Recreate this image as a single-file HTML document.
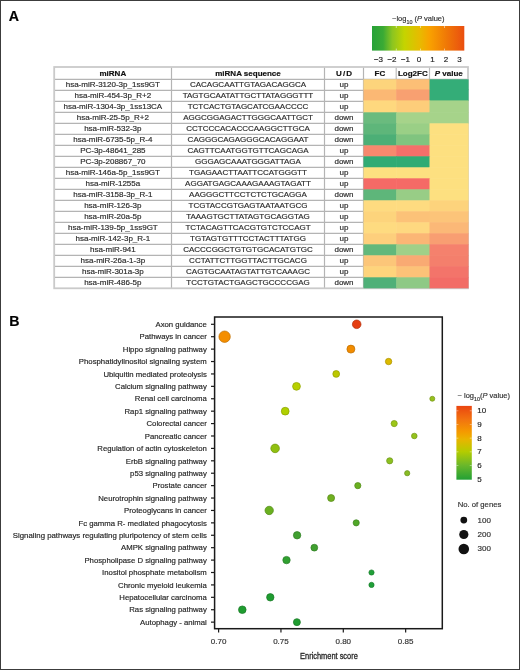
<!DOCTYPE html>
<html><head><meta charset="utf-8"><style>
html,body{margin:0;padding:0;background:#fff;}
body{width:520px;height:670px;overflow:hidden;}
svg{display:block;font-family:"Liberation Sans",sans-serif;will-change:transform;}
</style></head><body>
<svg width="520" height="670" viewBox="0 0 520 670">
<defs>
<linearGradient id="gA" x1="0" y1="0" x2="1" y2="0">
 <stop offset="0" stop-color="#27a138"/>
 <stop offset="0.12" stop-color="#3aaa35"/>
 <stop offset="0.22" stop-color="#8cc520"/>
 <stop offset="0.35" stop-color="#c4d400"/>
 <stop offset="0.52" stop-color="#e8ba00"/>
 <stop offset="0.62" stop-color="#f9a200"/>
 <stop offset="0.80" stop-color="#f07a06"/>
 <stop offset="1" stop-color="#ea4e10"/>
</linearGradient>
<linearGradient id="gB" x1="0" y1="1" x2="0" y2="0">
 <stop offset="0" stop-color="#22a035"/>
 <stop offset="0.2" stop-color="#6cb82a"/>
 <stop offset="0.38" stop-color="#b4cc00"/>
 <stop offset="0.55" stop-color="#eab400"/>
 <stop offset="0.65" stop-color="#f59a00"/>
 <stop offset="0.82" stop-color="#f27210"/>
 <stop offset="1" stop-color="#ea4510"/>
</linearGradient>
</defs>
<rect x="0.5" y="0.5" width="519" height="669" fill="#fff" stroke="#3c3c3c" stroke-width="1"/>

<text x="8.8" y="20.8" font-size="14.2" font-weight="bold" fill="#000" stroke="#000" stroke-width="0.17">A</text>
<text x="9.2" y="325.5" font-size="14.2" font-weight="bold" fill="#000" stroke="#000" stroke-width="0.17">B</text>
<text x="392" y="21" font-size="7.5" fill="#333" stroke="#333" stroke-width="0.17">−log<tspan font-size="5.4" dy="2.6">10</tspan><tspan dy="-2.6"> (</tspan><tspan font-style="italic">P</tspan> value)</text>
<rect x="372" y="26" width="92.3" height="24.6" fill="url(#gA)"/>
<line x1="396.3" y1="26" x2="396.3" y2="28" stroke="#fff" stroke-width="0.8" opacity="0.7"/>
<line x1="396.3" y1="48.6" x2="396.3" y2="50.6" stroke="#fff" stroke-width="0.8" opacity="0.7"/>
<line x1="420.4" y1="26" x2="420.4" y2="28" stroke="#fff" stroke-width="0.8" opacity="0.7"/>
<line x1="420.4" y1="48.6" x2="420.4" y2="50.6" stroke="#fff" stroke-width="0.8" opacity="0.7"/>
<line x1="444.4" y1="26" x2="444.4" y2="28" stroke="#fff" stroke-width="0.8" opacity="0.7"/>
<line x1="444.4" y1="48.6" x2="444.4" y2="50.6" stroke="#fff" stroke-width="0.8" opacity="0.7"/>
<text x="378.5" y="61.6" font-size="8" fill="#222" text-anchor="middle" stroke="#222" stroke-width="0.17">−3</text>
<text x="392.0" y="61.6" font-size="8" fill="#222" text-anchor="middle" stroke="#222" stroke-width="0.17">−2</text>
<text x="405.5" y="61.6" font-size="8" fill="#222" text-anchor="middle" stroke="#222" stroke-width="0.17">−1</text>
<text x="419.0" y="61.6" font-size="8" fill="#222" text-anchor="middle" stroke="#222" stroke-width="0.17">0</text>
<text x="432.5" y="61.6" font-size="8" fill="#222" text-anchor="middle" stroke="#222" stroke-width="0.17">1</text>
<text x="446.0" y="61.6" font-size="8" fill="#222" text-anchor="middle" stroke="#222" stroke-width="0.17">2</text>
<text x="459.5" y="61.6" font-size="8" fill="#222" text-anchor="middle" stroke="#222" stroke-width="0.17">3</text>
<line x1="54.2" y1="90.30" x2="363.5" y2="90.30" stroke="#b4b4b4" stroke-width="1.2"/>
<line x1="54.2" y1="101.30" x2="363.5" y2="101.30" stroke="#b4b4b4" stroke-width="1.2"/>
<line x1="54.2" y1="112.30" x2="363.5" y2="112.30" stroke="#b4b4b4" stroke-width="1.2"/>
<line x1="54.2" y1="123.30" x2="363.5" y2="123.30" stroke="#b4b4b4" stroke-width="1.2"/>
<line x1="54.2" y1="134.30" x2="363.5" y2="134.30" stroke="#b4b4b4" stroke-width="1.2"/>
<line x1="54.2" y1="145.30" x2="363.5" y2="145.30" stroke="#b4b4b4" stroke-width="1.2"/>
<line x1="54.2" y1="156.30" x2="363.5" y2="156.30" stroke="#b4b4b4" stroke-width="1.2"/>
<line x1="54.2" y1="167.30" x2="363.5" y2="167.30" stroke="#b4b4b4" stroke-width="1.2"/>
<line x1="54.2" y1="178.30" x2="363.5" y2="178.30" stroke="#b4b4b4" stroke-width="1.2"/>
<line x1="54.2" y1="189.30" x2="363.5" y2="189.30" stroke="#b4b4b4" stroke-width="1.2"/>
<line x1="54.2" y1="200.30" x2="363.5" y2="200.30" stroke="#b4b4b4" stroke-width="1.2"/>
<line x1="54.2" y1="211.30" x2="363.5" y2="211.30" stroke="#b4b4b4" stroke-width="1.2"/>
<line x1="54.2" y1="222.30" x2="363.5" y2="222.30" stroke="#b4b4b4" stroke-width="1.2"/>
<line x1="54.2" y1="233.30" x2="363.5" y2="233.30" stroke="#b4b4b4" stroke-width="1.2"/>
<line x1="54.2" y1="244.30" x2="363.5" y2="244.30" stroke="#b4b4b4" stroke-width="1.2"/>
<line x1="54.2" y1="255.30" x2="363.5" y2="255.30" stroke="#b4b4b4" stroke-width="1.2"/>
<line x1="54.2" y1="266.30" x2="363.5" y2="266.30" stroke="#b4b4b4" stroke-width="1.2"/>
<line x1="54.2" y1="277.30" x2="363.5" y2="277.30" stroke="#b4b4b4" stroke-width="1.2"/>
<line x1="54.2" y1="79.3" x2="468" y2="79.3" stroke="#b4b4b4" stroke-width="1.2"/>
<line x1="171.5" y1="67.0" x2="171.5" y2="288.30" stroke="#b4b4b4" stroke-width="1.2"/>
<line x1="324.5" y1="67.0" x2="324.5" y2="288.30" stroke="#b4b4b4" stroke-width="1.2"/>
<line x1="363.5" y1="67.0" x2="363.5" y2="288.30" stroke="#b4b4b4" stroke-width="1.2"/>
<line x1="396.2" y1="67.0" x2="396.2" y2="79.3" stroke="#bcbcbc" stroke-width="1.2"/>
<line x1="429.5" y1="67.0" x2="429.5" y2="79.3" stroke="#bcbcbc" stroke-width="1.2"/>
<rect x="54.2" y="67.0" width="413.80" height="221.30" fill="none" stroke="#cacaca" stroke-width="1.8"/>
<rect x="363.5" y="79.30" width="33.30" height="10.80" fill="#fdd47c"/>
<rect x="396.2" y="79.30" width="33.90" height="10.80" fill="#fcbf76"/>
<rect x="429.5" y="79.30" width="39.10" height="10.80" fill="#34ad78"/>
<rect x="363.5" y="89.50" width="33.30" height="11.50" fill="#fbb874"/>
<rect x="396.2" y="89.50" width="33.90" height="11.50" fill="#f8a071"/>
<rect x="429.5" y="89.50" width="39.10" height="11.50" fill="#34ad78"/>
<rect x="363.5" y="100.40" width="33.30" height="12.50" fill="#fed87e"/>
<rect x="396.2" y="100.40" width="33.90" height="12.50" fill="#fdcd7a"/>
<rect x="429.5" y="100.40" width="39.10" height="12.50" fill="#a6d38a"/>
<rect x="363.5" y="112.30" width="33.30" height="11.60" fill="#6abb7e"/>
<rect x="396.2" y="112.30" width="33.90" height="11.60" fill="#a6d38a"/>
<rect x="429.5" y="112.30" width="39.10" height="11.60" fill="#a6d38a"/>
<rect x="363.5" y="123.30" width="33.30" height="11.60" fill="#5eb67a"/>
<rect x="396.2" y="123.30" width="33.90" height="11.60" fill="#9acf86"/>
<rect x="429.5" y="123.30" width="39.10" height="11.60" fill="#fde080"/>
<rect x="363.5" y="134.30" width="33.30" height="11.60" fill="#4caf76"/>
<rect x="396.2" y="134.30" width="33.90" height="11.60" fill="#80c47f"/>
<rect x="429.5" y="134.30" width="39.10" height="11.60" fill="#fde080"/>
<rect x="363.5" y="145.30" width="33.30" height="11.60" fill="#f7896e"/>
<rect x="396.2" y="145.30" width="33.90" height="11.60" fill="#f46f6a"/>
<rect x="429.5" y="145.30" width="39.10" height="11.60" fill="#fde080"/>
<rect x="363.5" y="156.30" width="33.30" height="11.60" fill="#30ab74"/>
<rect x="396.2" y="156.30" width="33.90" height="11.60" fill="#30ab74"/>
<rect x="429.5" y="156.30" width="39.10" height="11.60" fill="#fde080"/>
<rect x="363.5" y="167.30" width="33.30" height="11.60" fill="#fde080"/>
<rect x="396.2" y="167.30" width="33.90" height="11.60" fill="#fde080"/>
<rect x="429.5" y="167.30" width="39.10" height="11.60" fill="#fde080"/>
<rect x="363.5" y="178.30" width="33.30" height="11.60" fill="#f56a66"/>
<rect x="396.2" y="178.30" width="33.90" height="11.60" fill="#f56a66"/>
<rect x="429.5" y="178.30" width="39.10" height="11.60" fill="#fde080"/>
<rect x="363.5" y="189.30" width="33.30" height="11.60" fill="#5eb67a"/>
<rect x="396.2" y="189.30" width="33.90" height="11.60" fill="#98cd86"/>
<rect x="429.5" y="189.30" width="39.10" height="11.60" fill="#fde080"/>
<rect x="363.5" y="200.30" width="33.30" height="11.60" fill="#fedb80"/>
<rect x="396.2" y="200.30" width="33.90" height="11.60" fill="#fedb80"/>
<rect x="429.5" y="200.30" width="39.10" height="11.60" fill="#fdd37c"/>
<rect x="363.5" y="211.30" width="33.30" height="11.60" fill="#fdd47c"/>
<rect x="396.2" y="211.30" width="33.90" height="11.60" fill="#fcc278"/>
<rect x="429.5" y="211.30" width="39.10" height="11.60" fill="#fcc479"/>
<rect x="363.5" y="222.30" width="33.30" height="11.60" fill="#fedb80"/>
<rect x="396.2" y="222.30" width="33.90" height="11.60" fill="#fed880"/>
<rect x="429.5" y="222.30" width="39.10" height="11.60" fill="#fbb877"/>
<rect x="363.5" y="233.30" width="33.30" height="11.60" fill="#fdcf7c"/>
<rect x="396.2" y="233.30" width="33.90" height="11.60" fill="#fbb675"/>
<rect x="429.5" y="233.30" width="39.10" height="11.60" fill="#f89e72"/>
<rect x="363.5" y="244.30" width="33.30" height="11.60" fill="#62b87b"/>
<rect x="396.2" y="244.30" width="33.90" height="11.60" fill="#a0d088"/>
<rect x="429.5" y="244.30" width="39.10" height="11.60" fill="#f5816d"/>
<rect x="363.5" y="255.30" width="33.30" height="11.60" fill="#fcc679"/>
<rect x="396.2" y="255.30" width="33.90" height="11.60" fill="#f9aa73"/>
<rect x="429.5" y="255.30" width="39.10" height="11.60" fill="#f47f6c"/>
<rect x="363.5" y="266.30" width="33.30" height="11.60" fill="#fed47c"/>
<rect x="396.2" y="266.30" width="33.90" height="11.60" fill="#fcc278"/>
<rect x="429.5" y="266.30" width="39.10" height="11.60" fill="#f3746a"/>
<rect x="363.5" y="277.30" width="33.30" height="11.00" fill="#4fb078"/>
<rect x="396.2" y="277.30" width="33.90" height="11.00" fill="#8ec985"/>
<rect x="429.5" y="277.30" width="39.10" height="11.00" fill="#f26c66"/>
<text x="112.85" y="75.8" font-size="8" font-weight="bold" fill="#111" text-anchor="middle" stroke="#111" stroke-width="0.17">miRNA</text>
<text x="248.00" y="75.8" font-size="8" font-weight="bold" fill="#111" text-anchor="middle" stroke="#111" stroke-width="0.17">miRNA sequence</text>
<text x="344.00" y="75.8" font-size="8" font-weight="bold" fill="#111" text-anchor="middle" stroke="#111" stroke-width="0.17">U<tspan dx="1.1">/</tspan><tspan dx="1.1">D</tspan></text>
<text x="379.85" y="75.8" font-size="8" font-weight="bold" fill="#111" text-anchor="middle" stroke="#111" stroke-width="0.17">FC</text>
<text x="412.85" y="75.8" font-size="8" font-weight="bold" fill="#111" text-anchor="middle" stroke="#111" stroke-width="0.17">Log2FC</text>
<text x="448.75" y="75.8" font-size="8" font-weight="bold" fill="#111" text-anchor="middle" stroke="#111" stroke-width="0.17"><tspan font-style="italic">P</tspan> value</text>
<text x="112.85" y="87.40" font-size="8" fill="#2a2a2a" text-anchor="middle" stroke="#2a2a2a" stroke-width="0.17">hsa-miR-3120-3p_1ss9GT</text>
<text x="248.00" y="87.40" font-size="8" fill="#2a2a2a" text-anchor="middle" stroke="#2a2a2a" stroke-width="0.17">CACAGCAATTGTAGACAGGCA</text>
<text x="344.00" y="87.40" font-size="8" fill="#2a2a2a" text-anchor="middle" stroke="#2a2a2a" stroke-width="0.17">up</text>
<text x="112.85" y="98.40" font-size="8" fill="#2a2a2a" text-anchor="middle" stroke="#2a2a2a" stroke-width="0.17">hsa-miR-454-3p_R+2</text>
<text x="248.00" y="98.40" font-size="8" fill="#2a2a2a" text-anchor="middle" stroke="#2a2a2a" stroke-width="0.17">TAGTGCAATATTGCTTATAGGGTTT</text>
<text x="344.00" y="98.40" font-size="8" fill="#2a2a2a" text-anchor="middle" stroke="#2a2a2a" stroke-width="0.17">up</text>
<text x="112.85" y="109.40" font-size="8" fill="#2a2a2a" text-anchor="middle" stroke="#2a2a2a" stroke-width="0.17">hsa-miR-1304-3p_1ss13CA</text>
<text x="248.00" y="109.40" font-size="8" fill="#2a2a2a" text-anchor="middle" stroke="#2a2a2a" stroke-width="0.17">TCTCACTGTAGCATCGAACCCC</text>
<text x="344.00" y="109.40" font-size="8" fill="#2a2a2a" text-anchor="middle" stroke="#2a2a2a" stroke-width="0.17">up</text>
<text x="112.85" y="120.40" font-size="8" fill="#2a2a2a" text-anchor="middle" stroke="#2a2a2a" stroke-width="0.17">hsa-miR-25-5p_R+2</text>
<text x="248.00" y="120.40" font-size="8" fill="#2a2a2a" text-anchor="middle" stroke="#2a2a2a" stroke-width="0.17">AGGCGGAGACTTGGGCAATTGCT</text>
<text x="344.00" y="120.40" font-size="8" fill="#2a2a2a" text-anchor="middle" stroke="#2a2a2a" stroke-width="0.17">down</text>
<text x="112.85" y="131.40" font-size="8" fill="#2a2a2a" text-anchor="middle" stroke="#2a2a2a" stroke-width="0.17">hsa-miR-532-3p</text>
<text x="248.00" y="131.40" font-size="8" fill="#2a2a2a" text-anchor="middle" stroke="#2a2a2a" stroke-width="0.17">CCTCCCACACCCAAGGCTTGCA</text>
<text x="344.00" y="131.40" font-size="8" fill="#2a2a2a" text-anchor="middle" stroke="#2a2a2a" stroke-width="0.17">down</text>
<text x="112.85" y="142.40" font-size="8" fill="#2a2a2a" text-anchor="middle" stroke="#2a2a2a" stroke-width="0.17">hsa-miR-6735-5p_R-4</text>
<text x="248.00" y="142.40" font-size="8" fill="#2a2a2a" text-anchor="middle" stroke="#2a2a2a" stroke-width="0.17">CAGGGCAGAGGGCACAGGAAT</text>
<text x="344.00" y="142.40" font-size="8" fill="#2a2a2a" text-anchor="middle" stroke="#2a2a2a" stroke-width="0.17">down</text>
<text x="112.85" y="153.40" font-size="8" fill="#2a2a2a" text-anchor="middle" stroke="#2a2a2a" stroke-width="0.17">PC-3p-48641_285</text>
<text x="248.00" y="153.40" font-size="8" fill="#2a2a2a" text-anchor="middle" stroke="#2a2a2a" stroke-width="0.17">CAGTTCAATGGTGTTCAGCAGA</text>
<text x="344.00" y="153.40" font-size="8" fill="#2a2a2a" text-anchor="middle" stroke="#2a2a2a" stroke-width="0.17">up</text>
<text x="112.85" y="164.40" font-size="8" fill="#2a2a2a" text-anchor="middle" stroke="#2a2a2a" stroke-width="0.17">PC-3p-208867_70</text>
<text x="248.00" y="164.40" font-size="8" fill="#2a2a2a" text-anchor="middle" stroke="#2a2a2a" stroke-width="0.17">GGGAGCAAATGGGATTAGA</text>
<text x="344.00" y="164.40" font-size="8" fill="#2a2a2a" text-anchor="middle" stroke="#2a2a2a" stroke-width="0.17">down</text>
<text x="112.85" y="175.40" font-size="8" fill="#2a2a2a" text-anchor="middle" stroke="#2a2a2a" stroke-width="0.17">hsa-miR-146a-5p_1ss9GT</text>
<text x="248.00" y="175.40" font-size="8" fill="#2a2a2a" text-anchor="middle" stroke="#2a2a2a" stroke-width="0.17">TGAGAACTTAATTCCATGGGTT</text>
<text x="344.00" y="175.40" font-size="8" fill="#2a2a2a" text-anchor="middle" stroke="#2a2a2a" stroke-width="0.17">up</text>
<text x="112.85" y="186.40" font-size="8" fill="#2a2a2a" text-anchor="middle" stroke="#2a2a2a" stroke-width="0.17">hsa-miR-1255a</text>
<text x="248.00" y="186.40" font-size="8" fill="#2a2a2a" text-anchor="middle" stroke="#2a2a2a" stroke-width="0.17">AGGATGAGCAAAGAAAGTAGATT</text>
<text x="344.00" y="186.40" font-size="8" fill="#2a2a2a" text-anchor="middle" stroke="#2a2a2a" stroke-width="0.17">up</text>
<text x="112.85" y="197.40" font-size="8" fill="#2a2a2a" text-anchor="middle" stroke="#2a2a2a" stroke-width="0.17">hsa-miR-3158-3p_R-1</text>
<text x="248.00" y="197.40" font-size="8" fill="#2a2a2a" text-anchor="middle" stroke="#2a2a2a" stroke-width="0.17">AAGGGCTTCCTCTCTGCAGGA</text>
<text x="344.00" y="197.40" font-size="8" fill="#2a2a2a" text-anchor="middle" stroke="#2a2a2a" stroke-width="0.17">down</text>
<text x="112.85" y="208.40" font-size="8" fill="#2a2a2a" text-anchor="middle" stroke="#2a2a2a" stroke-width="0.17">hsa-miR-126-3p</text>
<text x="248.00" y="208.40" font-size="8" fill="#2a2a2a" text-anchor="middle" stroke="#2a2a2a" stroke-width="0.17">TCGTACCGTGAGTAATAATGCG</text>
<text x="344.00" y="208.40" font-size="8" fill="#2a2a2a" text-anchor="middle" stroke="#2a2a2a" stroke-width="0.17">up</text>
<text x="112.85" y="219.40" font-size="8" fill="#2a2a2a" text-anchor="middle" stroke="#2a2a2a" stroke-width="0.17">hsa-miR-20a-5p</text>
<text x="248.00" y="219.40" font-size="8" fill="#2a2a2a" text-anchor="middle" stroke="#2a2a2a" stroke-width="0.17">TAAAGTGCTTATAGTGCAGGTAG</text>
<text x="344.00" y="219.40" font-size="8" fill="#2a2a2a" text-anchor="middle" stroke="#2a2a2a" stroke-width="0.17">up</text>
<text x="112.85" y="230.40" font-size="8" fill="#2a2a2a" text-anchor="middle" stroke="#2a2a2a" stroke-width="0.17">hsa-miR-139-5p_1ss9GT</text>
<text x="248.00" y="230.40" font-size="8" fill="#2a2a2a" text-anchor="middle" stroke="#2a2a2a" stroke-width="0.17">TCTACAGTTCACGTGTCTCCAGT</text>
<text x="344.00" y="230.40" font-size="8" fill="#2a2a2a" text-anchor="middle" stroke="#2a2a2a" stroke-width="0.17">up</text>
<text x="112.85" y="241.40" font-size="8" fill="#2a2a2a" text-anchor="middle" stroke="#2a2a2a" stroke-width="0.17">hsa-miR-142-3p_R-1</text>
<text x="248.00" y="241.40" font-size="8" fill="#2a2a2a" text-anchor="middle" stroke="#2a2a2a" stroke-width="0.17">TGTAGTGTTTCCTACTTTATGG</text>
<text x="344.00" y="241.40" font-size="8" fill="#2a2a2a" text-anchor="middle" stroke="#2a2a2a" stroke-width="0.17">up</text>
<text x="112.85" y="252.40" font-size="8" fill="#2a2a2a" text-anchor="middle" stroke="#2a2a2a" stroke-width="0.17">hsa-miR-941</text>
<text x="248.00" y="252.40" font-size="8" fill="#2a2a2a" text-anchor="middle" stroke="#2a2a2a" stroke-width="0.17">CACCCGGCTGTGTGCACATGTGC</text>
<text x="344.00" y="252.40" font-size="8" fill="#2a2a2a" text-anchor="middle" stroke="#2a2a2a" stroke-width="0.17">down</text>
<text x="112.85" y="263.40" font-size="8" fill="#2a2a2a" text-anchor="middle" stroke="#2a2a2a" stroke-width="0.17">hsa-miR-26a-1-3p</text>
<text x="248.00" y="263.40" font-size="8" fill="#2a2a2a" text-anchor="middle" stroke="#2a2a2a" stroke-width="0.17">CCTATTCTTGGTTACTTGCACG</text>
<text x="344.00" y="263.40" font-size="8" fill="#2a2a2a" text-anchor="middle" stroke="#2a2a2a" stroke-width="0.17">up</text>
<text x="112.85" y="274.40" font-size="8" fill="#2a2a2a" text-anchor="middle" stroke="#2a2a2a" stroke-width="0.17">hsa-miR-301a-3p</text>
<text x="248.00" y="274.40" font-size="8" fill="#2a2a2a" text-anchor="middle" stroke="#2a2a2a" stroke-width="0.17">CAGTGCAATAGTATTGTCAAAGC</text>
<text x="344.00" y="274.40" font-size="8" fill="#2a2a2a" text-anchor="middle" stroke="#2a2a2a" stroke-width="0.17">up</text>
<text x="112.85" y="285.40" font-size="8" fill="#2a2a2a" text-anchor="middle" stroke="#2a2a2a" stroke-width="0.17">hsa-miR-486-5p</text>
<text x="248.00" y="285.40" font-size="8" fill="#2a2a2a" text-anchor="middle" stroke="#2a2a2a" stroke-width="0.17">TCCTGTACTGAGCTGCCCCGAG</text>
<text x="344.00" y="285.40" font-size="8" fill="#2a2a2a" text-anchor="middle" stroke="#2a2a2a" stroke-width="0.17">down</text>
<text x="206.8" y="327.00" font-size="7.75" fill="#262626" text-anchor="end" stroke="#262626" stroke-width="0.17">Axon guidance</text>
<line x1="211" y1="324.30" x2="214.6" y2="324.30" stroke="#1a1a1a" stroke-width="1.2"/>
<text x="206.8" y="339.41" font-size="7.75" fill="#262626" text-anchor="end" stroke="#262626" stroke-width="0.17">Pathways in cancer</text>
<line x1="211" y1="336.71" x2="214.6" y2="336.71" stroke="#1a1a1a" stroke-width="1.2"/>
<text x="206.8" y="351.82" font-size="7.75" fill="#262626" text-anchor="end" stroke="#262626" stroke-width="0.17">Hippo signaling pathway</text>
<line x1="211" y1="349.12" x2="214.6" y2="349.12" stroke="#1a1a1a" stroke-width="1.2"/>
<text x="206.8" y="364.23" font-size="7.75" fill="#262626" text-anchor="end" stroke="#262626" stroke-width="0.17">Phosphatidylinositol signaling system</text>
<line x1="211" y1="361.53" x2="214.6" y2="361.53" stroke="#1a1a1a" stroke-width="1.2"/>
<text x="206.8" y="376.64" font-size="7.75" fill="#262626" text-anchor="end" stroke="#262626" stroke-width="0.17">Ubiquitin mediated proteolysis</text>
<line x1="211" y1="373.94" x2="214.6" y2="373.94" stroke="#1a1a1a" stroke-width="1.2"/>
<text x="206.8" y="389.05" font-size="7.75" fill="#262626" text-anchor="end" stroke="#262626" stroke-width="0.17">Calcium signaling pathway</text>
<line x1="211" y1="386.35" x2="214.6" y2="386.35" stroke="#1a1a1a" stroke-width="1.2"/>
<text x="206.8" y="401.46" font-size="7.75" fill="#262626" text-anchor="end" stroke="#262626" stroke-width="0.17">Renal cell carcinoma</text>
<line x1="211" y1="398.76" x2="214.6" y2="398.76" stroke="#1a1a1a" stroke-width="1.2"/>
<text x="206.8" y="413.87" font-size="7.75" fill="#262626" text-anchor="end" stroke="#262626" stroke-width="0.17">Rap1 signaling pathway</text>
<line x1="211" y1="411.17" x2="214.6" y2="411.17" stroke="#1a1a1a" stroke-width="1.2"/>
<text x="206.8" y="426.28" font-size="7.75" fill="#262626" text-anchor="end" stroke="#262626" stroke-width="0.17">Colorectal cancer</text>
<line x1="211" y1="423.58" x2="214.6" y2="423.58" stroke="#1a1a1a" stroke-width="1.2"/>
<text x="206.8" y="438.69" font-size="7.75" fill="#262626" text-anchor="end" stroke="#262626" stroke-width="0.17">Pancreatic cancer</text>
<line x1="211" y1="435.99" x2="214.6" y2="435.99" stroke="#1a1a1a" stroke-width="1.2"/>
<text x="206.8" y="451.10" font-size="7.75" fill="#262626" text-anchor="end" stroke="#262626" stroke-width="0.17">Regulation of actin cytoskeleton</text>
<line x1="211" y1="448.40" x2="214.6" y2="448.40" stroke="#1a1a1a" stroke-width="1.2"/>
<text x="206.8" y="463.51" font-size="7.75" fill="#262626" text-anchor="end" stroke="#262626" stroke-width="0.17">ErbB signaling pathway</text>
<line x1="211" y1="460.81" x2="214.6" y2="460.81" stroke="#1a1a1a" stroke-width="1.2"/>
<text x="206.8" y="475.92" font-size="7.75" fill="#262626" text-anchor="end" stroke="#262626" stroke-width="0.17">p53 signaling pathway</text>
<line x1="211" y1="473.22" x2="214.6" y2="473.22" stroke="#1a1a1a" stroke-width="1.2"/>
<text x="206.8" y="488.33" font-size="7.75" fill="#262626" text-anchor="end" stroke="#262626" stroke-width="0.17">Prostate cancer</text>
<line x1="211" y1="485.63" x2="214.6" y2="485.63" stroke="#1a1a1a" stroke-width="1.2"/>
<text x="206.8" y="500.74" font-size="7.75" fill="#262626" text-anchor="end" stroke="#262626" stroke-width="0.17">Neurotrophin signaling pathway</text>
<line x1="211" y1="498.04" x2="214.6" y2="498.04" stroke="#1a1a1a" stroke-width="1.2"/>
<text x="206.8" y="513.15" font-size="7.75" fill="#262626" text-anchor="end" stroke="#262626" stroke-width="0.17">Proteoglycans in cancer</text>
<line x1="211" y1="510.45" x2="214.6" y2="510.45" stroke="#1a1a1a" stroke-width="1.2"/>
<text x="206.8" y="525.56" font-size="7.75" fill="#262626" text-anchor="end" stroke="#262626" stroke-width="0.17">Fc gamma R- mediated phagocytosis</text>
<line x1="211" y1="522.86" x2="214.6" y2="522.86" stroke="#1a1a1a" stroke-width="1.2"/>
<text x="206.8" y="537.97" font-size="7.75" fill="#262626" text-anchor="end" textLength="194" lengthAdjust="spacingAndGlyphs" stroke="#262626" stroke-width="0.17">Signaling pathways regulating pluripotency of stem cells</text>
<line x1="211" y1="535.27" x2="214.6" y2="535.27" stroke="#1a1a1a" stroke-width="1.2"/>
<text x="206.8" y="550.38" font-size="7.75" fill="#262626" text-anchor="end" stroke="#262626" stroke-width="0.17">AMPK signaling pathway</text>
<line x1="211" y1="547.68" x2="214.6" y2="547.68" stroke="#1a1a1a" stroke-width="1.2"/>
<text x="206.8" y="562.79" font-size="7.75" fill="#262626" text-anchor="end" stroke="#262626" stroke-width="0.17">Phospholipase D signaling pathway</text>
<line x1="211" y1="560.09" x2="214.6" y2="560.09" stroke="#1a1a1a" stroke-width="1.2"/>
<text x="206.8" y="575.20" font-size="7.75" fill="#262626" text-anchor="end" stroke="#262626" stroke-width="0.17">Inositol phosphate metabolism</text>
<line x1="211" y1="572.50" x2="214.6" y2="572.50" stroke="#1a1a1a" stroke-width="1.2"/>
<text x="206.8" y="587.61" font-size="7.75" fill="#262626" text-anchor="end" stroke="#262626" stroke-width="0.17">Chronic myeloid leukemia</text>
<line x1="211" y1="584.91" x2="214.6" y2="584.91" stroke="#1a1a1a" stroke-width="1.2"/>
<text x="206.8" y="600.02" font-size="7.75" fill="#262626" text-anchor="end" stroke="#262626" stroke-width="0.17">Hepatocellular carcinoma</text>
<line x1="211" y1="597.32" x2="214.6" y2="597.32" stroke="#1a1a1a" stroke-width="1.2"/>
<text x="206.8" y="612.43" font-size="7.75" fill="#262626" text-anchor="end" stroke="#262626" stroke-width="0.17">Ras signaling pathway</text>
<line x1="211" y1="609.73" x2="214.6" y2="609.73" stroke="#1a1a1a" stroke-width="1.2"/>
<text x="206.8" y="624.84" font-size="7.75" fill="#262626" text-anchor="end" stroke="#262626" stroke-width="0.17">Autophagy - animal</text>
<line x1="211" y1="622.14" x2="214.6" y2="622.14" stroke="#1a1a1a" stroke-width="1.2"/>
<circle cx="356.7" cy="324.30" r="4.3" fill="#e53e12" stroke="#b2300e" stroke-width="0.7"/>
<circle cx="224.6" cy="336.71" r="5.7" fill="#f48e00" stroke="#be6e00" stroke-width="0.7"/>
<circle cx="350.9" cy="349.12" r="4.0" fill="#f28c00" stroke="#bc6d00" stroke-width="0.7"/>
<circle cx="388.6" cy="361.53" r="3.2" fill="#dcba00" stroke="#ab9100" stroke-width="0.7"/>
<circle cx="336.2" cy="373.94" r="3.4" fill="#bcc800" stroke="#929c00" stroke-width="0.7"/>
<circle cx="296.5" cy="386.35" r="3.9" fill="#b8d000" stroke="#8fa200" stroke-width="0.7"/>
<circle cx="432.3" cy="398.76" r="2.5" fill="#96c01e" stroke="#759517" stroke-width="0.7"/>
<circle cx="285.2" cy="411.17" r="3.9" fill="#b0d000" stroke="#89a200" stroke-width="0.7"/>
<circle cx="394.2" cy="423.58" r="3.1" fill="#9cc618" stroke="#799a12" stroke-width="0.7"/>
<circle cx="414.3" cy="435.99" r="2.8" fill="#94c21c" stroke="#739715" stroke-width="0.7"/>
<circle cx="275.1" cy="448.40" r="4.3" fill="#90c010" stroke="#70950c" stroke-width="0.7"/>
<circle cx="389.7" cy="460.81" r="3.1" fill="#8cc020" stroke="#6d9518" stroke-width="0.7"/>
<circle cx="407.2" cy="473.22" r="2.6" fill="#88bc24" stroke="#6a921c" stroke-width="0.7"/>
<circle cx="357.8" cy="485.63" r="3.1" fill="#6ab020" stroke="#528918" stroke-width="0.7"/>
<circle cx="331.1" cy="498.04" r="3.5" fill="#70b020" stroke="#578918" stroke-width="0.7"/>
<circle cx="269.2" cy="510.45" r="4.2" fill="#6ab020" stroke="#528918" stroke-width="0.7"/>
<circle cx="356.2" cy="522.86" r="3.1" fill="#50a828" stroke="#3e831f" stroke-width="0.7"/>
<circle cx="297.1" cy="535.27" r="3.7" fill="#40a030" stroke="#317c25" stroke-width="0.7"/>
<circle cx="314.3" cy="547.68" r="3.4" fill="#40a030" stroke="#317c25" stroke-width="0.7"/>
<circle cx="286.5" cy="560.09" r="3.7" fill="#30a030" stroke="#257c25" stroke-width="0.7"/>
<circle cx="371.5" cy="572.50" r="2.6" fill="#20a038" stroke="#187c2b" stroke-width="0.7"/>
<circle cx="371.5" cy="584.91" r="2.6" fill="#20a038" stroke="#187c2b" stroke-width="0.7"/>
<circle cx="270.3" cy="597.32" r="3.7" fill="#1f9c30" stroke="#187925" stroke-width="0.7"/>
<circle cx="242.3" cy="609.73" r="3.8" fill="#1f9c30" stroke="#187925" stroke-width="0.7"/>
<circle cx="296.9" cy="622.14" r="3.5" fill="#1f9c30" stroke="#187925" stroke-width="0.7"/>
<rect x="214.6" y="317.0" width="227.70" height="311.70" fill="none" stroke="#1a1a1a" stroke-width="1.5"/>
<line x1="218.60" y1="628.7" x2="218.60" y2="632.6" stroke="#1a1a1a" stroke-width="1.2"/>
<text x="218.60" y="643.9" font-size="8" fill="#333" text-anchor="middle" stroke="#333" stroke-width="0.17">0.70</text>
<line x1="280.95" y1="628.7" x2="280.95" y2="632.6" stroke="#1a1a1a" stroke-width="1.2"/>
<text x="280.95" y="643.9" font-size="8" fill="#333" text-anchor="middle" stroke="#333" stroke-width="0.17">0.75</text>
<line x1="343.30" y1="628.7" x2="343.30" y2="632.6" stroke="#1a1a1a" stroke-width="1.2"/>
<text x="343.30" y="643.9" font-size="8" fill="#333" text-anchor="middle" stroke="#333" stroke-width="0.17">0.80</text>
<line x1="405.65" y1="628.7" x2="405.65" y2="632.6" stroke="#1a1a1a" stroke-width="1.2"/>
<text x="405.65" y="643.9" font-size="8" fill="#333" text-anchor="middle" stroke="#333" stroke-width="0.17">0.85</text>
<text x="0" y="0" font-size="9.7" fill="#2a2a2a" stroke="#2a2a2a" stroke-width="0.35" transform="translate(300.1 658.5) scale(0.765 1)">Enrichment score</text>
<text x="457.5" y="398.3" font-size="7.5" fill="#333" stroke="#333" stroke-width="0.17">− log<tspan font-size="5.4" dy="2.6">10</tspan><tspan dy="-2.6">(</tspan><tspan font-style="italic">P</tspan> value)</text>
<rect x="456.4" y="405.9" width="15.4" height="73.8" fill="url(#gB)"/>
<text x="477.2" y="481.60" font-size="8" fill="#262626" stroke="#262626" stroke-width="0.17">5</text>
<text x="477.2" y="467.92" font-size="8" fill="#262626" stroke="#262626" stroke-width="0.17">6</text>
<line x1="456.4" y1="465.52" x2="458.4" y2="465.52" stroke="#fff" stroke-width="0.7" opacity="0.6"/>
<line x1="469.8" y1="465.52" x2="471.8" y2="465.52" stroke="#fff" stroke-width="0.7" opacity="0.6"/>
<text x="477.2" y="454.24" font-size="8" fill="#262626" stroke="#262626" stroke-width="0.17">7</text>
<line x1="456.4" y1="451.84" x2="458.4" y2="451.84" stroke="#fff" stroke-width="0.7" opacity="0.6"/>
<line x1="469.8" y1="451.84" x2="471.8" y2="451.84" stroke="#fff" stroke-width="0.7" opacity="0.6"/>
<text x="477.2" y="440.56" font-size="8" fill="#262626" stroke="#262626" stroke-width="0.17">8</text>
<line x1="456.4" y1="438.16" x2="458.4" y2="438.16" stroke="#fff" stroke-width="0.7" opacity="0.6"/>
<line x1="469.8" y1="438.16" x2="471.8" y2="438.16" stroke="#fff" stroke-width="0.7" opacity="0.6"/>
<text x="477.2" y="426.88" font-size="8" fill="#262626" stroke="#262626" stroke-width="0.17">9</text>
<line x1="456.4" y1="424.48" x2="458.4" y2="424.48" stroke="#fff" stroke-width="0.7" opacity="0.6"/>
<line x1="469.8" y1="424.48" x2="471.8" y2="424.48" stroke="#fff" stroke-width="0.7" opacity="0.6"/>
<text x="477.2" y="413.20" font-size="8" fill="#262626" stroke="#262626" stroke-width="0.17">10</text>
<line x1="456.4" y1="410.80" x2="458.4" y2="410.80" stroke="#fff" stroke-width="0.7" opacity="0.6"/>
<line x1="469.8" y1="410.80" x2="471.8" y2="410.80" stroke="#fff" stroke-width="0.7" opacity="0.6"/>
<text x="457.7" y="506.5" font-size="7.7" fill="#333" stroke="#333" stroke-width="0.17">No. of genes</text>
<circle cx="463.8" cy="520.1" r="3.4" fill="#111"/>
<text x="477.6" y="522.5" font-size="8" fill="#333" stroke="#333" stroke-width="0.17">100</text>
<circle cx="463.8" cy="534.5" r="4.6" fill="#111"/>
<text x="477.6" y="537" font-size="8" fill="#333" stroke="#333" stroke-width="0.17">200</text>
<circle cx="463.8" cy="549" r="5.3" fill="#111"/>
<text x="477.6" y="551.4" font-size="8" fill="#333" stroke="#333" stroke-width="0.17">300</text>
</svg>
</body></html>
